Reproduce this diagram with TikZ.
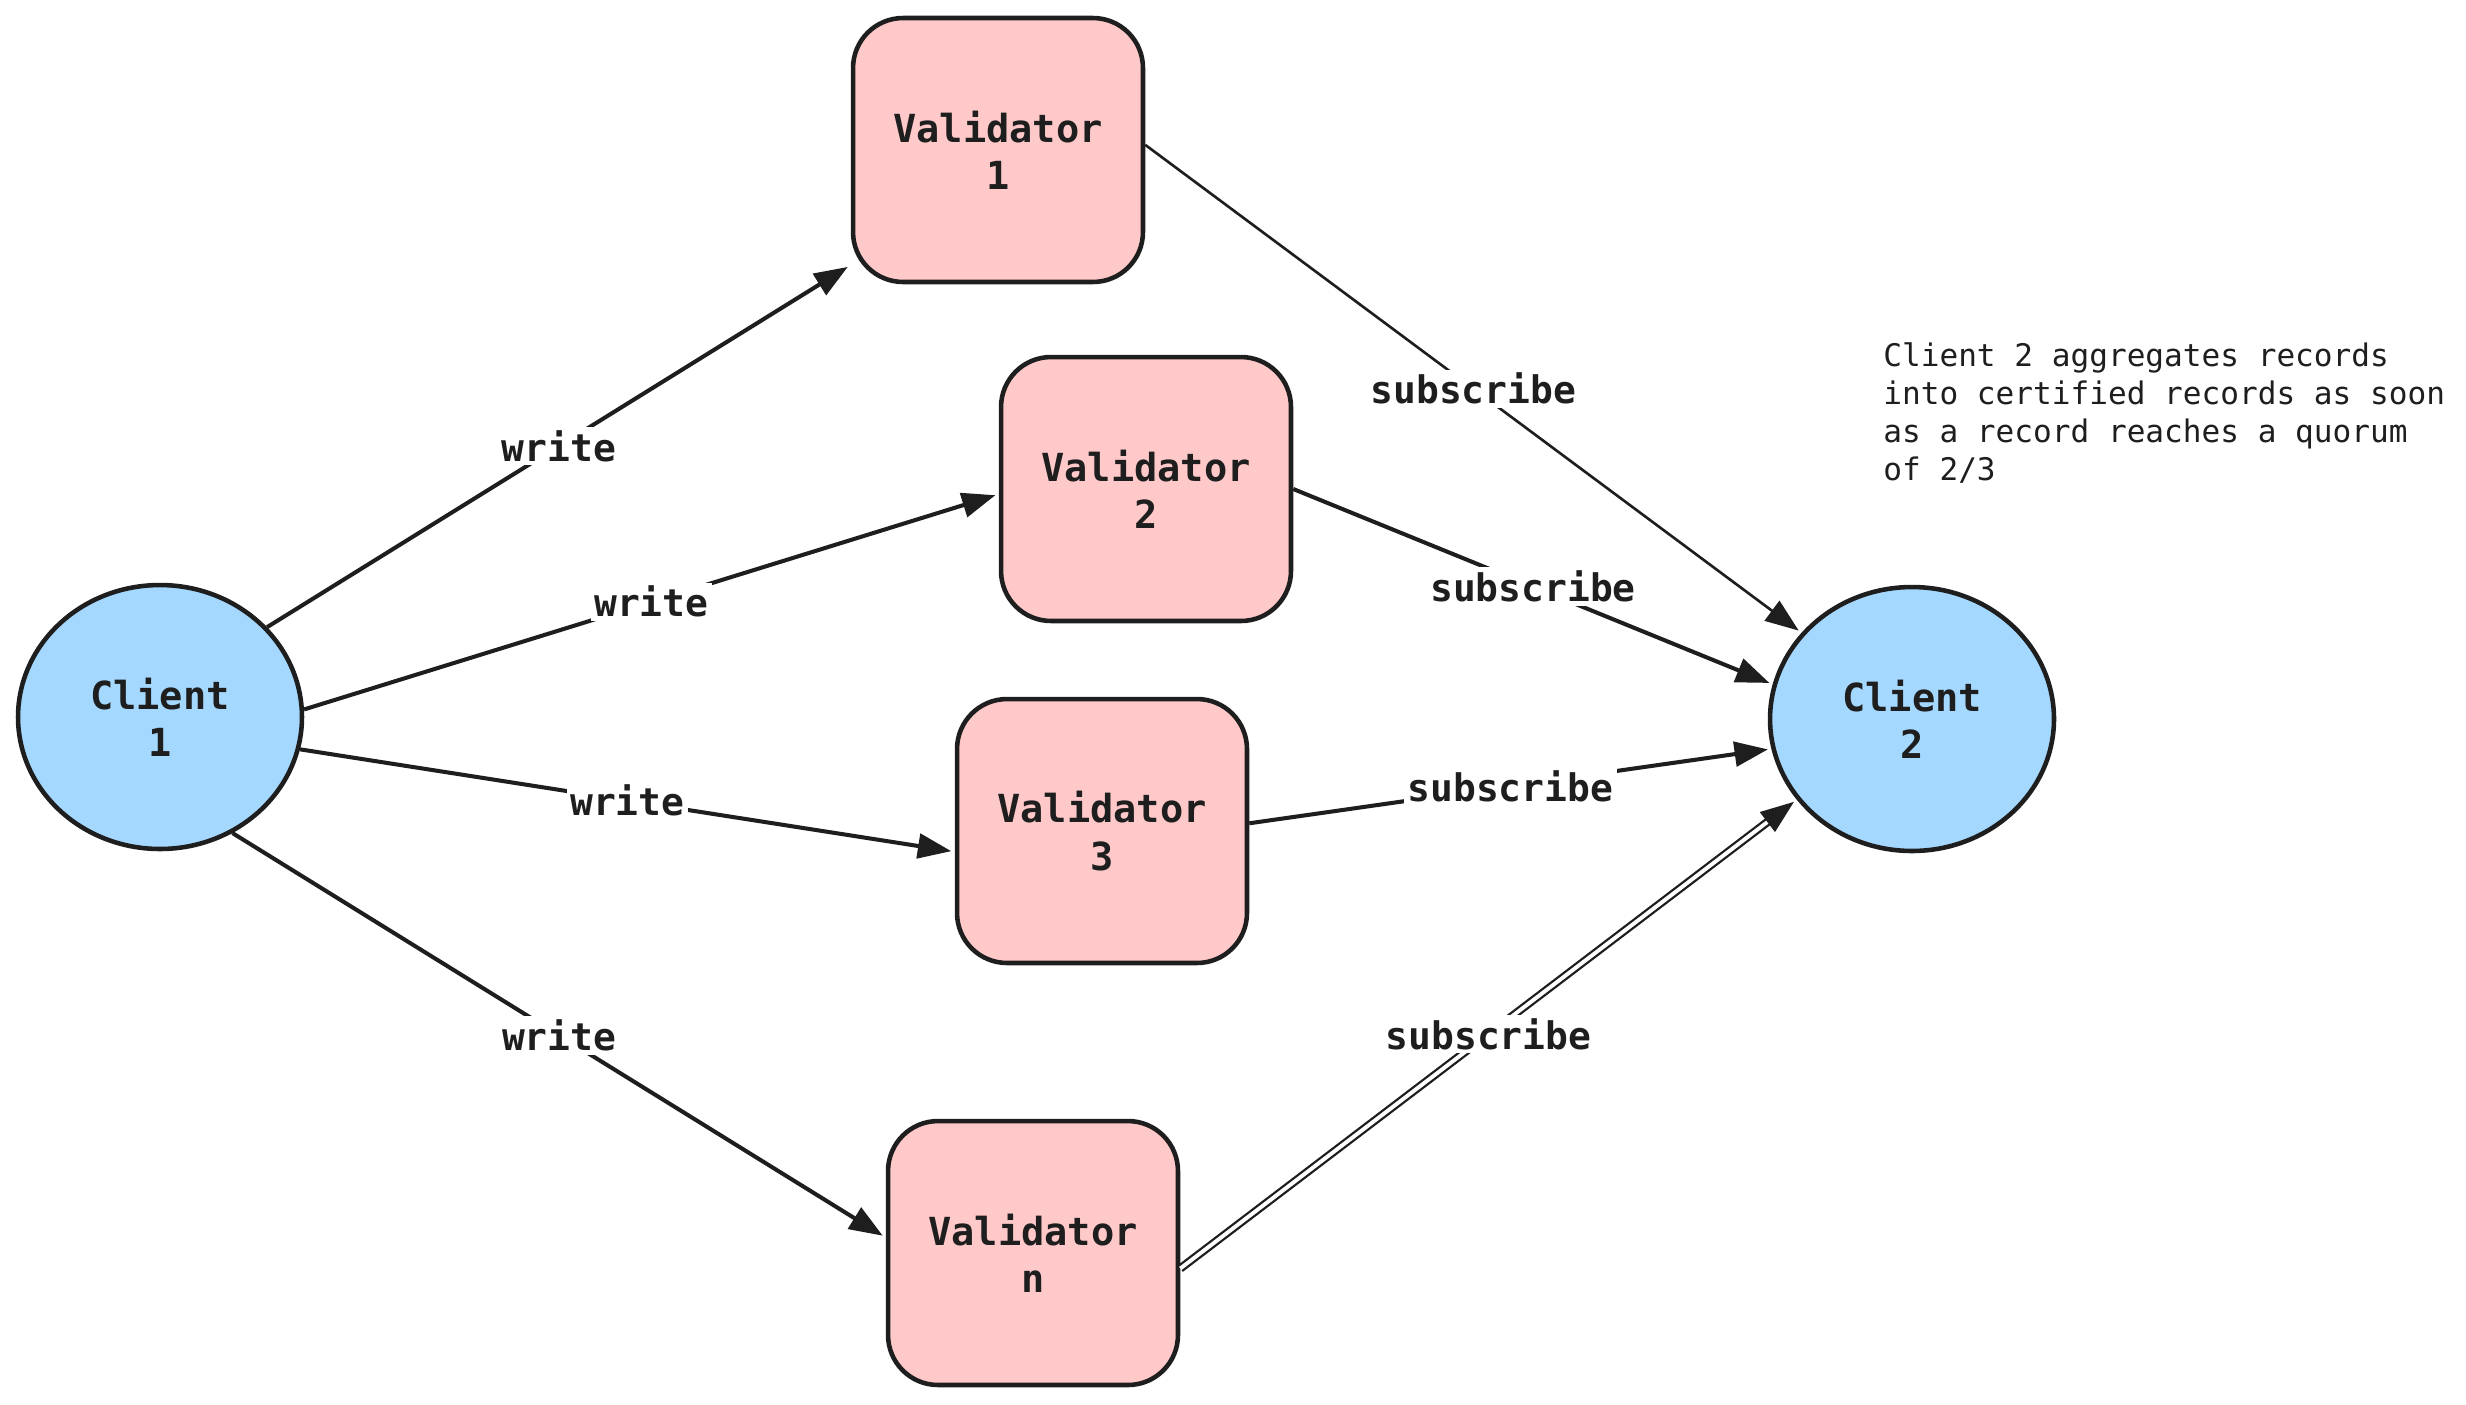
\documentclass[tikz,border=0pt]{standalone}
\usepackage{fontspec}
\setmonofont{DejaVu Sans Mono}
\usetikzlibrary{arrows.meta,shapes.geometric}
\definecolor{ink}{HTML}{1E1E1E}
\definecolor{clientblue}{HTML}{A5D8FF}
\definecolor{validatorpink}{HTML}{FFC9C9}
\begin{document}
\begin{tikzpicture}[x=0.02cm, y=-0.02cm,
  client/.style={ellipse, draw=ink, line width=2.6pt, fill=clientblue, minimum width=5.68cm, minimum height=5.28cm, inner sep=0pt, align=center, text=ink, font=\ttfamily\bfseries\fontsize{22}{27}\selectfont},
  validator/.style={rectangle, rounded corners=1cm, draw=ink, line width=2.6pt, fill=validatorpink, minimum width=5.8cm, minimum height=5.28cm, inner sep=0pt, align=center, text=ink, font=\ttfamily\bfseries\fontsize{22}{27}\selectfont},
  link/.style={draw=ink, line width=2.3pt, -{Triangle[length=19pt,width=14pt]}, shorten >=2pt},
  lbl/.style={fill=white, inner sep=2pt, text=ink, font=\ttfamily\bfseries\fontsize{21.6}{26}\selectfont},
  note/.style={align=left, inner sep=0pt, text=ink, font=\ttfamily\fontsize{17.7}{21.6}\selectfont}]
\useasboundingbox (0,0) rectangle (2466,1404);
\node[client] (C1) at (160,717) {Client\\1};
\node[client] (C2) at (1912,719) {Client\\2};
\node[validator] (V1) at (998,150) {Validator\\1};
\node[validator] (V2) at (1146,489) {Validator\\2};
\node[validator] (V3) at (1102,831) {Validator\\3};
\node[validator] (Vn) at (1033,1253) {Validator\\n};
\node[note, anchor=north west] (note) at (1883,342) {Client 2 aggregates records\\into certified records as soon\\as a record reaches a quorum\\of 2/3};
% writes
\draw[link] (C1.40) -- node[lbl] {write} (V1.218);
\draw[link] (C1.3) -- node[lbl] {write} (V2.182);
\draw[link] (C1.-13) -- node[lbl] {write} (V3.188);
\draw[link] (C1.-58) -- node[lbl] {write} (Vn.174);
% subscriptions
\draw[link, line width=1.5pt] (V1.2) -- node[lbl] {subscribe} (C2.142);
\draw[link] (V2.east) -- node[lbl] {subscribe} (C2.166);
\draw[link] (V3.3) -- node[lbl] {subscribe} (C2.192);
\draw[link, line width=1.3pt, double=white, double distance=2.2pt] (Vn.-6) -- node[lbl] {subscribe} (C2.215);
\end{tikzpicture}
\end{document}
